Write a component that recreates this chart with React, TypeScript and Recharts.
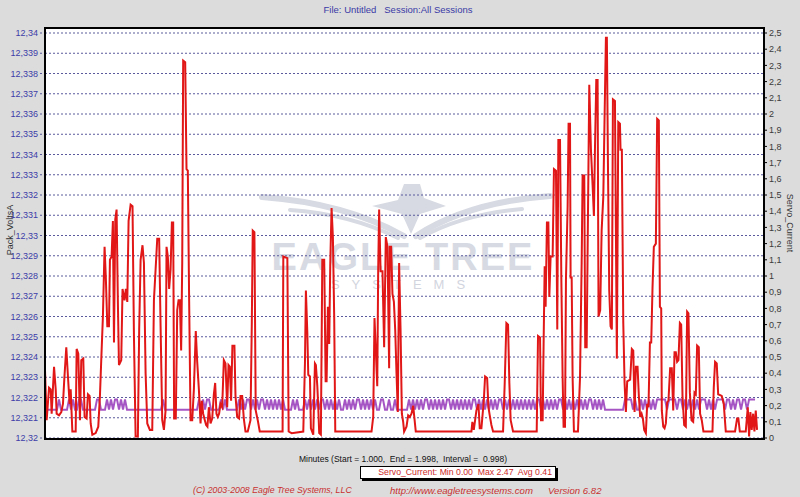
import React from 'react';
import { LineChart, Line, XAxis, YAxis, CartesianGrid } from 'recharts';

// left axis: Pack_VoltsA, right axis: Servo_Current
const VOLT_TICKS = [
  12.32, 12.321, 12.322, 12.323, 12.324, 12.325, 12.326, 12.327, 12.328, 12.329, 12.33,
  12.331, 12.332, 12.333, 12.334, 12.335, 12.336, 12.337, 12.338, 12.339, 12.34,
];
const AMP_TICKS = [
  0, 0.1, 0.2, 0.3, 0.4, 0.5, 0.6, 0.7, 0.8, 0.9, 1, 1.1, 1.2, 1.3, 1.4, 1.5, 1.6, 1.7, 1.8, 1.9,
  2, 2.1, 2.2, 2.3, 2.4, 2.5,
];

// session length shown in seconds (1.000 -> 1.998 min)
const TIME_DOMAIN = [0, 60.38];

// pack voltage only flips between two levels; one char per sample
const PACK_LEVELS = [12.3214, 12.3219];
const PACK_SAMPLE_S = 0.1682;
const PACK_STATES = [
  '000000', '010', '000', '101', '00', '11', '0000000', '11', '000',
  '10101101010', '00000000000000000', '1', '00000000000000000',
  '1010110', '0000', '101', '000000', '101011', '01010110101010101',
  '0000', '1010', '0010', '1010101101010101', '001', '0101011010101010',
  '0110', '01001', '000000',
  '10101010110101010101101010101010110101010101011010101010',
  '1010101011010101010110101010101010110101010',
  '000000000',
  '1111010010', '1010101111', '1011110110', '1010101011', '1010101111', '0110101101', '101111',
].join('');

// [seconds, amps]
const SERVO_TRACE: [number, number][] = [
  [0.00, 0.42], [0.14, 0.11], [0.34, 0.31], [0.48, 0.30], [0.56, 0.15], [0.76, 0.44], [0.90, 0.30],
  [0.98, 0.15], [1.18, 0.14], [1.37, 0.16], [1.51, 0.21], [1.62, 0.36], [1.79, 0.56], [1.93, 0.38],
  [2.07, 0.21], [2.16, 0.30], [2.30, 0.04], [2.58, 0.04], [2.66, 0.55], [2.80, 0.52], [2.94, 0.11],
  [3.05, 0.48], [3.22, 0.49], [3.33, 0.13], [3.50, 0.12], [3.61, 0.27], [3.75, 0.26], [3.84, 0.09],
  [3.98, 0.02], [4.26, 0.03], [4.48, 0.07], [4.62, 0.26], [4.73, 0.48], [4.87, 0.75], [5.01, 1.18],
  [5.12, 0.98], [5.24, 0.69], [5.38, 0.69], [5.46, 1.10], [5.60, 1.12], [5.71, 1.34], [5.80, 0.59],
  [5.91, 1.35], [6.02, 1.41], [6.13, 0.83], [6.22, 0.45], [6.41, 0.48], [6.52, 0.92], [6.69, 0.85],
  [6.80, 0.92], [6.92, 0.84], [7.03, 1.34], [7.20, 1.44], [7.36, 1.43], [7.48, 0.63], [7.62, 0.01],
  [7.81, 0.01], [7.92, 0.67], [8.04, 1.10], [8.20, 1.19], [8.32, 1.08], [8.46, 0.40], [8.60, 0.09],
  [8.82, 0.05], [9.02, 0.05], [9.16, 0.85], [9.30, 1.04], [9.44, 1.23], [9.60, 1.23], [9.72, 0.69],
  [9.86, 0.11], [10.00, 0.05], [10.14, 0.17], [10.22, 1.18], [10.33, 1.12], [10.44, 0.92],
  [10.56, 1.04], [10.67, 1.33], [10.78, 1.33], [10.86, 0.12], [11.00, 0.12], [11.12, 0.79],
  [11.23, 0.85], [11.34, 0.85], [11.45, 0.54], [11.54, 1.08], [11.62, 2.33], [11.79, 2.32],
  [11.90, 1.66], [12.01, 1.65], [12.12, 0.86], [12.24, 0.11], [12.38, 0.11], [12.52, 0.30],
  [12.68, 0.66], [12.80, 0.47], [12.94, 0.30], [13.08, 0.09], [13.19, 0.23], [13.30, 0.15],
  [13.44, 0.11], [13.55, 0.08], [13.66, 0.07], [13.78, 0.19], [13.92, 0.09], [14.06, 0.12],
  [14.20, 0.27], [14.31, 0.34], [14.42, 0.15], [14.53, 0.13], [14.64, 0.15], [14.76, 0.21],
  [14.90, 0.19], [15.04, 0.48], [15.18, 0.46], [15.32, 0.19], [15.43, 0.45], [15.54, 0.44],
  [15.65, 0.23], [15.76, 0.57], [15.93, 0.57], [16.02, 0.26], [16.16, 0.13], [16.32, 0.12],
  [16.44, 0.26], [16.58, 0.26], [16.72, 0.12], [16.86, 0.04], [17.05, 0.04], [17.28, 0.11],
  [17.39, 0.70], [17.47, 1.28], [17.61, 1.27], [17.72, 0.17], [17.89, 0.11], [18.06, 0.04],
  [19.85, 0.04], [19.98, 0.04], [20.04, 1.12], [20.38, 1.11], [20.49, 0.04], [20.74, 0.03],
  [21.72, 0.04], [21.86, 0.46], [21.94, 0.91], [22.06, 0.65], [22.14, 0.39], [22.28, 0.38],
  [22.36, 0.06], [22.56, 0.02], [22.70, 0.46], [22.78, 0.45], [22.90, 0.32], [22.98, 0.19],
  [23.06, 0.03], [23.20, 0.02], [23.32, 1.10], [23.48, 1.10], [23.60, 0.35], [23.68, 0.35],
  [23.79, 0.81], [23.90, 0.58], [23.99, 1.08], [24.10, 1.42], [24.21, 1.24], [24.32, 0.75],
  [24.41, 0.04], [27.46, 0.04], [27.60, 0.13], [27.71, 0.74], [27.82, 0.54], [27.94, 0.32],
  [28.02, 1.04], [28.10, 1.41], [28.22, 1.03], [28.38, 1.03], [28.52, 0.56], [28.66, 1.24],
  [28.80, 1.18], [28.94, 0.43], [29.00, 1.18], [29.11, 1.18], [29.22, 0.89], [29.34, 0.84],
  [29.45, 0.67], [29.56, 0.40], [29.67, 0.16], [29.78, 1.08], [29.90, 0.67], [30.01, 0.15],
  [30.12, 0.10], [30.20, 0.04], [30.40, 0.07], [30.54, 0.14], [30.68, 0.13], [30.82, 0.15],
  [30.96, 0.20], [31.07, 0.12], [31.18, 0.04], [35.86, 0.04], [35.94, 0.10], [36.06, 0.05],
  [36.17, 0.11], [36.28, 0.17], [36.45, 0.21], [36.56, 0.06], [36.70, 0.06], [36.90, 0.23],
  [37.01, 0.38], [37.18, 0.37], [37.29, 0.19], [37.40, 0.14], [37.54, 0.08], [37.68, 0.04],
  [38.52, 0.04], [38.66, 0.34], [38.80, 0.71], [38.94, 0.70], [39.05, 0.34], [39.16, 0.11],
  [39.36, 0.04], [41.35, 0.04], [41.46, 0.63], [41.63, 0.62], [41.71, 0.11], [41.85, 0.11],
  [41.93, 0.58], [42.02, 1.06], [42.10, 0.81], [42.21, 1.33], [42.33, 1.33], [42.41, 0.87],
  [42.52, 1.12], [42.69, 1.12], [42.80, 1.66], [42.97, 1.65], [43.08, 0.67], [43.17, 1.84],
  [43.31, 1.84], [43.42, 0.99], [43.53, 0.37], [43.61, 0.07], [43.73, 0.07], [43.81, 0.98],
  [43.95, 1.43], [44.03, 1.94], [44.15, 1.94], [44.20, 0.99], [44.29, 0.99], [44.37, 0.37],
  [44.48, 0.04], [44.82, 0.04], [44.99, 0.37], [45.13, 1.08], [45.21, 1.62], [45.35, 1.62],
  [45.43, 0.56], [45.55, 0.56], [45.66, 1.37], [45.77, 2.18], [45.91, 1.78], [46.05, 1.56],
  [46.16, 1.37], [46.25, 1.79], [46.36, 2.21], [46.47, 2.21], [46.55, 0.75], [46.69, 0.79],
  [46.81, 1.28], [46.95, 1.49], [47.06, 1.99], [47.17, 2.47], [47.25, 2.47], [47.34, 1.70],
  [47.45, 0.91], [47.56, 0.69], [47.67, 0.67], [47.76, 2.09], [47.93, 2.08], [48.01, 1.28],
  [48.09, 0.49], [48.21, 1.95], [48.35, 1.94], [48.40, 1.78], [48.51, 1.78], [48.63, 0.71],
  [48.74, 0.34], [48.85, 0.16], [48.96, 0.35], [49.21, 0.36], [49.35, 0.55], [49.47, 0.54],
  [49.58, 0.16], [49.69, 0.44], [49.83, 0.44], [49.94, 0.26], [50.05, 0.13], [50.17, 0.15],
  [50.28, 0.12], [50.39, 0.05], [50.53, 0.03], [50.64, 0.21], [50.75, 0.19], [50.87, 0.59],
  [50.98, 0.59], [51.09, 0.93], [51.20, 1.18], [51.37, 1.20], [51.48, 1.97], [51.62, 1.96],
  [51.71, 0.81], [51.82, 0.80], [51.87, 0.17], [51.99, 0.07], [52.10, 0.06], [52.21, 0.09],
  [52.32, 0.22], [52.43, 0.23], [52.57, 0.43], [52.71, 0.43], [52.83, 0.17], [52.94, 0.53],
  [53.05, 0.53], [53.16, 0.47], [53.27, 0.48], [53.39, 0.71], [53.50, 0.70], [53.61, 0.26],
  [53.75, 0.08], [53.89, 0.07], [54.00, 0.78], [54.11, 0.77], [54.23, 0.28], [54.37, 0.11],
  [54.51, 0.10], [54.62, 0.28], [54.73, 0.27], [54.84, 0.57], [54.98, 0.56], [55.09, 0.15],
  [55.23, 0.11], [55.37, 0.04], [56.13, 0.04], [56.24, 0.31], [56.35, 0.47], [56.49, 0.46],
  [56.61, 0.27], [56.91, 0.26], [57.08, 0.21], [57.25, 0.04], [58.03, 0.04], [58.20, 0.12],
  [58.31, 0.12], [58.43, 0.04], [58.93, 0.04], [59.10, 0.19], [59.21, 0.01], [59.32, 0.16],
  [59.43, 0.05], [59.55, 0.15], [59.66, 0.04], [59.77, 0.17], [59.88, 0.05],
];

const servoData = SERVO_TRACE.map(([t, amps]) => ({ t, amps }));
const packData = PACK_STATES.split('').map((s, i) => ({ t: i * PACK_SAMPLE_S, volts: PACK_LEVELS[Number(s)] }));

// 12.330 -> "12,33", 2.0 -> "2"
const euro = (v: number, digits: number) =>
  String(parseFloat(v.toFixed(digits))).replace('.', ',');

const FONT = '"Liberation Sans", Arial, sans-serif';
const WATERMARK = '#d7dae2';
const FOOTER_RED = '#c83030';

const abs = (style: React.CSSProperties): React.CSSProperties => ({ position: 'absolute', ...style });

export default function App() {
  return (
    <div
      style={abs({
        left: 0, top: 0, width: 800, height: 497, overflow: 'hidden',
        background: '#dcdcdc', fontFamily: FONT,
      })}
    >
      <div style={abs({ left: 0, top: 4, width: 796, textAlign: 'center', fontSize: 9.5, color: '#3a3aa6', whiteSpace: 'pre' })}>
        File: Untitled   Session:All Sessions
      </div>

      {/* plot background */}
      <div style={abs({ left: 45, top: 28, width: 718, height: 410, background: '#ffffff' })} />

      {/* Eagle Tree watermark */}
      <svg width={800} height={497} style={abs({ left: 0, top: 0 })}>
        <g fill="none" stroke={WATERMARK} strokeLinecap="round">
          <path d="M262 197 Q345 203 404 236" strokeWidth={6} />
          <path d="M290 210 Q350 214 398 238" strokeWidth={4} />
          <path d="M550 196 Q468 202 416 236" strokeWidth={6} />
          <path d="M522 209 Q462 214 420 238" strokeWidth={4} />
        </g>
        <path d="M372 206 L398 200 L404 184 L420 184 L424 198 L446 206 L420 214 L411 234 L402 214 Z" fill={WATERMARK} />
        <text x={403} y={270} textAnchor="middle" fontSize={38} fontWeight="bold" letterSpacing={2} fill={WATERMARK} fontFamily={FONT}>
          EAGLE TREE
        </text>
        <text x={404} y={289} textAnchor="middle" fontSize={13} letterSpacing={12} fill="#d2d5de" fontFamily={FONT}>
          SYSTEMS
        </text>
      </svg>

      <div style={abs({ left: 0, top: 0 })}>
        <LineChart width={800} height={497} margin={{ top: 33, right: 0, bottom: 59, left: 0 }}>
          <CartesianGrid yAxisId="volts" vertical={false} stroke="#5a5a9c" strokeDasharray="2 2" />
          <XAxis xAxisId={0} type="number" dataKey="t" domain={TIME_DOMAIN} hide allowDataOverflow />
          <YAxis
            yAxisId="volts"
            orientation="left"
            width={45}
            domain={[12.32, 12.34]}
            ticks={VOLT_TICKS}
            interval={0}
            tickFormatter={(v: number) => euro(v, 3)}
            axisLine={false}
            tickSize={5}
            tickLine={{ stroke: '#5a5a9c', strokeDasharray: '2 2' }}
            tick={{ fill: '#3d3da8', fontSize: 9, fontFamily: FONT }}
            allowDataOverflow
          />
          <YAxis
            yAxisId="amps"
            orientation="right"
            width={37}
            domain={[0, 2.5]}
            ticks={AMP_TICKS}
            interval={0}
            tickFormatter={(v: number) => euro(v, 1)}
            axisLine={false}
            tickSize={4}
            tickLine={{ stroke: '#000000' }}
            tick={{ fill: '#3a3a3a', fontSize: 9, fontFamily: FONT }}
            allowDataOverflow
          />
          <Line
            yAxisId="volts"
            data={packData}
            dataKey="volts"
            type="linear"
            stroke="#a656c4"
            strokeWidth={2}
            dot={false}
            activeDot={false}
            isAnimationActive={false}
          />
          <Line
            yAxisId="amps"
            data={servoData}
            dataKey="amps"
            type="linear"
            stroke="#e11616"
            strokeWidth={2}
            dot={false}
            activeDot={false}
            isAnimationActive={false}
          />
        </LineChart>
      </div>

      {/* plot frame */}
      <div style={abs({ left: 44, top: 27, width: 721, height: 413, border: '2px solid #000', boxSizing: 'border-box' })} />

      <div style={abs({ left: 10, top: 230, fontSize: 9, color: '#333', whiteSpace: 'nowrap', transform: 'translate(-50%, -50%) rotate(-90deg)' })}>
        Pack_VoltsA
      </div>
      <div style={abs({ left: 790, top: 223, fontSize: 9, color: '#333', whiteSpace: 'nowrap', transform: 'translate(-50%, -50%) rotate(90deg)' })}>
        Servo_Current
      </div>

      <div style={abs({ left: 0, top: 454, width: 806, textAlign: 'center', fontSize: 8.5, color: '#111', whiteSpace: 'pre' })}>
        Minutes (Start = 1.000,  End = 1.998,  Interval =  0.998)
      </div>
      <div
        style={abs({
          left: 360, top: 466, width: 196, height: 13, background: '#fff', border: '1px solid #000',
          boxShadow: '2px 2px 0 #000', boxSizing: 'border-box', textAlign: 'right', paddingRight: 3,
          fontSize: 8.7, lineHeight: '11px', color: '#cc2a2a', whiteSpace: 'pre',
        })}
      >
        Servo_Current: Min 0.00  Max 2.47  Avg 0.41
      </div>
      <div style={abs({ left: 193, top: 485, fontSize: 8.8, fontStyle: 'italic', color: FOOTER_RED, whiteSpace: 'pre' })}>
        (C) 2003-2008 Eagle Tree Systems, LLC
      </div>
      <div style={abs({ left: 390, top: 485, fontSize: 9.6, fontStyle: 'italic', color: FOOTER_RED, whiteSpace: 'pre' })}>
        http://www.eagletreesystems.com
      </div>
      <div style={abs({ left: 548, top: 485, fontSize: 9.6, fontStyle: 'italic', color: FOOTER_RED, whiteSpace: 'pre' })}>
        Version 6.82
      </div>
    </div>
  );
}
